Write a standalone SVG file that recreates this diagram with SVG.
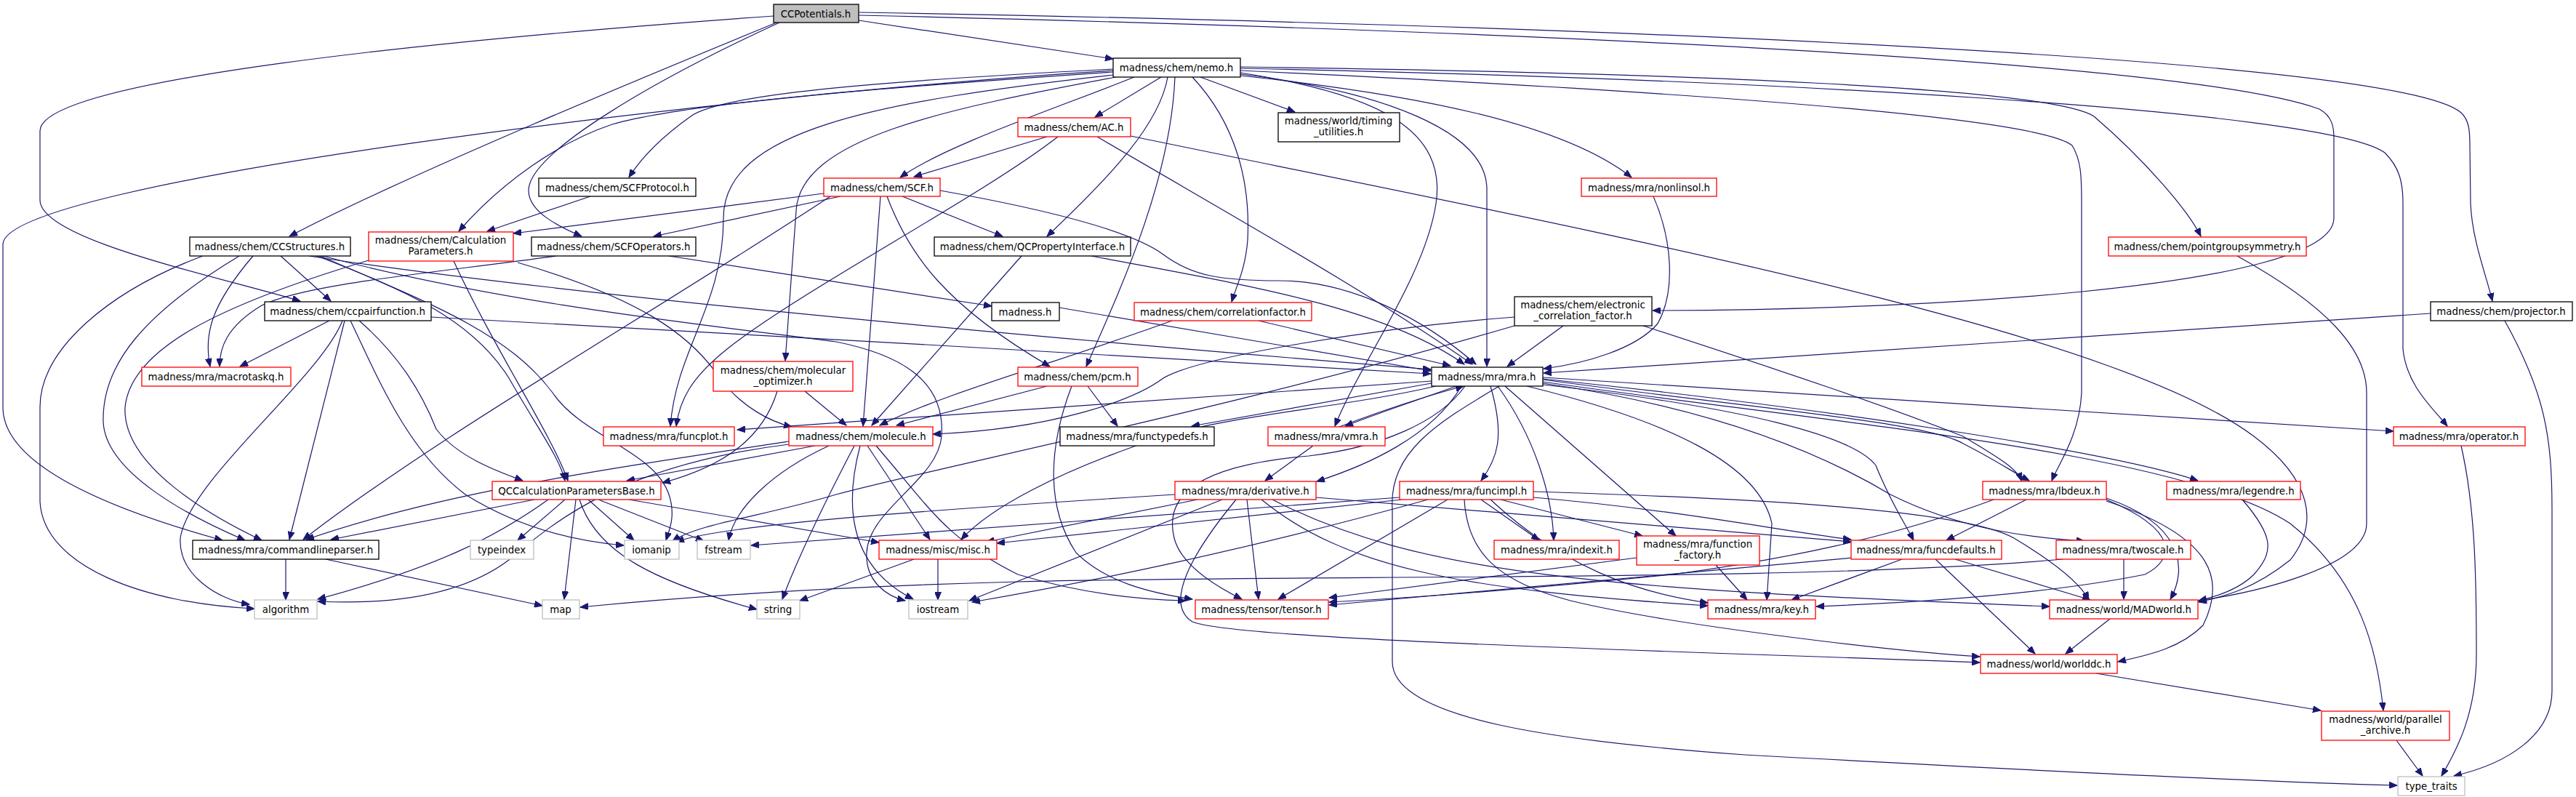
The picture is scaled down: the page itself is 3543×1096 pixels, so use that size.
<svg xmlns="http://www.w3.org/2000/svg" width="3543" height="1096" viewBox="0 0 3543 1096">
<defs>
<marker id="a" markerWidth="12" markerHeight="9" refX="11" refY="4.5" orient="auto" markerUnits="userSpaceOnUse"><path d="M0,0 L11,4.5 L0,9 z" fill="#191970" stroke="#191970" stroke-width="1"/></marker>
</defs>
<style>
.e path{fill:none;stroke:#191970;stroke-width:1.2;marker-end:url(#a)}
rect{stroke-width:1.3}
.k rect{fill:#fff;stroke:#000}
.r rect{fill:#fff;stroke:#ff0000}
.g rect{fill:#fff;stroke:#bfbfbf}
.s rect{fill:#bfbfbf;stroke:#000}
text{font-family:"DejaVu Sans","Liberation Sans",sans-serif;font-size:13.33px;fill:#000;text-anchor:middle}
</style>
<rect x="0" y="0" width="3543" height="1096" fill="#fff"/>
<g class="e" id="edges">
<path d="M1181,28 L1531,81"/>
<path d="M1068,31 C900,100 560,240 398,325"/>
<path d="M1064,22 C600,55 55,110 55,180 L55,275 C55,330 300,380 413,414"/>
<path d="M1072,31 C900,110 727,210 727,262 C727,292 770,312 800,325"/>
<path d="M1181,21 C2000,40 3000,80 3190,150 C3208,160 3210,175 3210,190 L3210,300 C3210,400 2600,427 2273,427"/>
<path d="M1181,17 C2200,35 3300,80 3385,155 C3396,165 3397,180 3397,200 L3398,280 C3400,330 3420,380 3428,414"/>
<path d="M1531,97 C1000,130 4,250 4,336 L4,560 C4,640 150,700 306,743"/>
<path d="M1531,99 C1250,118 950,140 842,171 C770,195 690,250 631,318"/>
<path d="M1531,95 C1200,112 990,130 950,160 C905,192 880,220 865,244"/>
<path d="M1531,103 C1200,140 995,180 995,300 C995,420 930,480 922,586"/>
<path d="M1535,106 C1300,150 1100,190 1095,290 L1080,496"/>
<path d="M1560,106 C1450,150 1300,200 1238,244"/>
<path d="M1597,106 L1506,161"/>
<path d="M1606,106 C1595,170 1530,240 1440,325"/>
<path d="M1616,106 C1610,250 1540,400 1494,504"/>
<path d="M1640,106 C1700,170 1720,250 1716,330 C1713,370 1700,395 1694,415"/>
<path d="M1651,106 L1781,154"/>
<path d="M1706,92 C2300,100 2820,120 2880,160 C2950,220 3010,290 3027,325"/>
<path d="M1706,94 C2400,108 3200,150 3280,210 C3300,230 3305,250 3305,280 L3305,480 C3310,530 3345,560 3366,586"/>
<path d="M1706,97 C2300,125 2800,160 2850,200 C2862,220 2863,240 2863,280 L2863,540 C2860,600 2830,640 2822,661"/>
<path d="M1706,100 C1900,130 1990,180 1975,280 C1960,380 1870,500 1836,586"/>
<path d="M1706,102 C1900,125 2045,180 2045,260 L2045,504"/>
<path d="M1706,104 C1950,130 2150,170 2244,244"/>
<path d="M279,352 C150,400 55,480 55,560 L55,690 C60,780 200,830 350,837"/>
<path d="M329,352 C200,430 140,500 142,580 C145,650 260,710 337,743"/>
<path d="M348,352 C290,420 280,460 289,504"/>
<path d="M386,352 L455,414"/>
<path d="M425,352 C800,410 1500,470 1968,508"/>
<path d="M436,352 C560,400 650,440 700,520 C740,590 770,630 777,661"/>
<path d="M440,352 C600,420 700,460 760,540 C800,600 900,620 920,680 C930,710 920,730 916,743"/>
<path d="M444,352 C700,420 1000,450 1150,470 C1250,490 1300,530 1295,600 C1290,660 1195,700 1192,760 C1190,800 1220,820 1245,826"/>
<path d="M453,441 L330,504"/>
<path d="M471,441 C440,520 260,660 248,740 C245,790 300,825 343,831"/>
<path d="M474,441 L398,742"/>
<path d="M482,441 C520,520 560,620 640,680 C720,730 800,745 858,750"/>
<path d="M494,441 C550,490 580,540 600,590 C630,630 690,650 719,661"/>
<path d="M593,436 C1000,460 1600,490 1968,514"/>
<path d="M624,359 C680,480 760,600 781,661"/>
<path d="M712,361 C880,410 950,460 990,520 C1020,560 1060,580 1089,587"/>
<path d="M507,358 C300,420 180,480 172,560 C168,640 290,710 360,743"/>
<path d="M765,352 C600,375 420,390 360,420 C310,450 302,480 302,504"/>
<path d="M920,352 L1364,421"/>
<path d="M812,270 L670,318"/>
<path d="M1440,188 L1257,243"/>
<path d="M1455,188 C1350,270 1100,400 1000,480 C950,520 935,550 930,586"/>
<path d="M1509,188 C1700,300 1880,400 2025,501"/>
<path d="M1555,187 C2200,320 2900,450 3100,600 C3180,660 3190,720 3150,770 C3100,810 3060,820 3024,828"/>
<path d="M1133,266 L706,321"/>
<path d="M1156,270 L899,325"/>
<path d="M1241,270 L1379,325"/>
<path d="M1293,262 C1450,290 1560,320 1600,350 C1640,380 1680,386 1760,386 C1860,386 1960,440 2030,501"/>
<path d="M1220,270 C1250,350 1300,420 1444,504"/>
<path d="M1211,270 L1187,586"/>
<path d="M1142,270 C900,430 600,600 417,742"/>
<path d="M1405,352 L1199,585"/>
<path d="M1501,352 C1700,390 1900,420 2014,501"/>
<path d="M1457,423 L1968,510"/>
<path d="M1612,441 C1450,500 1300,540 1210,585"/>
<path d="M1731,441 L1995,503"/>
<path d="M2150,448 L2073,504"/>
<path d="M2083,436 C1900,450 1650,490 1600,520 C1560,550 1450,590 1283,597"/>
<path d="M2083,448 C1700,560 1300,640 1150,680 C1050,710 960,720 925,744"/>
<path d="M2260,448 C2450,510 2600,560 2700,600 C2750,630 2775,645 2780,661"/>
<path d="M3343,431 L2123,513"/>
<path d="M3445,441 C3500,540 3510,600 3510,700 L3510,950 C3510,1010 3450,1050 3375,1067"/>
<path d="M2274,270 C2300,330 2305,400 2280,445 C2250,480 2180,500 2123,507"/>
<path d="M3077,352 C3200,420 3255,480 3255,540 L3255,720 C3255,780 3100,815 3024,826"/>
<path d="M1107,538 L1164,585"/>
<path d="M1069,538 C1050,600 1000,640 911,664"/>
<path d="M1440,531 L1233,585"/>
<path d="M1496,531 L1537,586"/>
<path d="M1474,531 C1440,620 1440,700 1480,760 C1520,800 1580,815 1640,824"/>
<path d="M1085,607 C800,650 600,680 421,742"/>
<path d="M1085,611 C850,640 760,720 700,770 C620,830 500,830 437,827"/>
<path d="M1121,613 L862,661"/>
<path d="M1140,613 C1060,650 1010,700 1002,743"/>
<path d="M1175,613 C1140,680 1100,760 1076,824"/>
<path d="M1183,613 C1160,700 1170,780 1256,824"/>
<path d="M1193,613 L1279,742"/>
<path d="M1205,613 C1280,700 1300,740 1400,790 C1500,820 1580,825 1631,826"/>
<path d="M735,687 L455,742"/>
<path d="M754,687 C680,740 600,780 437,824"/>
<path d="M777,687 L712,743"/>
<path d="M792,687 L776,824"/>
<path d="M797,687 C820,760 900,800 1041,838"/>
<path d="M809,687 L872,743"/>
<path d="M823,687 L968,744"/>
<path d="M865,687 L1209,746"/>
<path d="M393,769 L393,825"/>
<path d="M448,769 L746,833"/>
<path d="M1290,769 L1290,825"/>
<path d="M1257,769 L1100,826"/>
<path d="M1647,687 L1357,745"/>
<path d="M1681,687 L1333,826"/>
<path d="M1715,687 L1731,824"/>
<path d="M1700,687 C1640,760 1600,830 1640,855 C1700,880 2300,895 2723,911"/>
<path d="M1735,687 C1850,780 2000,810 2349,833"/>
<path d="M1750,687 C1950,790 2200,810 2819,834"/>
<path d="M1810,684 L2546,745"/>
<path d="M1616,680 C1300,700 1000,720 930,745"/>
<path d="M1925,684 L1033,750"/>
<path d="M1928,687 L1371,747"/>
<path d="M1964,687 C1700,760 1500,800 1337,828"/>
<path d="M1991,687 L1758,824"/>
<path d="M2037,687 L2117,743"/>
<path d="M2064,687 L2259,737"/>
<path d="M2109,684 C2300,700 2450,730 2546,742"/>
<path d="M2014,687 C2018,760 2060,800 2160,826 C2300,860 2600,895 2723,903"/>
<path d="M2050,687 C2150,780 2250,815 2349,829"/>
<path d="M2109,676 C2400,685 2700,700 2770,740 C2820,770 2860,800 2873,825"/>
<path d="M1806,613 L1740,661"/>
<path d="M1842,587 C1900,565 1960,545 2013,531"/>
<path d="M2003,531 C1950,550 1890,570 1850,586"/>
<path d="M1969,524 L1014,591"/>
<path d="M1969,527 L1639,586"/>
<path d="M2010,531 C1970,600 1880,640 1811,662"/>
<path d="M2050,531 C2070,600 2060,630 2037,661"/>
<path d="M2060,531 C2110,600 2135,680 2137,743"/>
<path d="M2070,531 L2305,737"/>
<path d="M2015,531 C1980,580 1900,615 1800,627 C1650,640 1600,680 1615,740 C1625,780 1680,810 1708,824"/>
<path d="M1975,531 C1850,560 1700,570 1600,600 C1450,650 1360,700 1322,742"/>
<path d="M2100,531 C2300,580 2420,640 2437,720 L2430,825"/>
<path d="M2122,525 C2500,580 3000,620 3150,720 C3250,800 3270,900 3278,977"/>
<path d="M2122,519 L3292,593"/>
<path d="M2122,522 C2400,560 2650,580 2700,610 C2740,630 2770,650 2791,661"/>
<path d="M2122,521 C2500,560 2900,620 3023,661"/>
<path d="M2122,527 C2350,560 2500,620 2600,680 C2700,730 2800,740 2867,744"/>
<path d="M2122,529 C2400,560 2550,600 2580,640 C2600,690 2620,720 2632,743"/>
<path d="M2062,531 C1980,580 1910,620 1915,700 L1915,910 C1915,990 2150,1020 2400,1038 C2800,1060 3100,1075 3297,1080"/>
<path d="M2787,687 L2677,743"/>
<path d="M2742,687 C2600,740 2450,770 2300,790 C2100,810 1950,822 1828,828"/>
<path d="M2897,685 C3000,720 3010,780 2985,824"/>
<path d="M2897,689 C3050,740 3060,800 3030,860 C3000,890 2960,900 2913,910"/>
<path d="M2897,687 C3000,730 2990,770 2950,790 C2800,820 2600,830 2498,834"/>
<path d="M2616,769 L2464,825"/>
<path d="M2689,769 L2875,825"/>
<path d="M2662,769 L2799,899"/>
<path d="M2548,767 C2300,790 2000,815 1828,832"/>
<path d="M2921,769 L2921,824"/>
<path d="M2837,769 C2500,800 1800,790 1400,800 C1100,808 900,825 798,835"/>
<path d="M2251,767 L1828,822"/>
<path d="M2360,777 L2403,825"/>
<path d="M2902,851 L2841,899"/>
<path d="M2883,926 L3192,977"/>
<path d="M3296,1018 L3332,1067"/>
<path d="M3385,613 C3405,700 3406,800 3406,900 C3406,980 3380,1030 3358,1067"/>
<path d="M3084,687 C3130,740 3126,760 3100,790 C3080,810 3050,820 3024,826"/>
</g>
<g id="n1" class="s"><rect x="1064" y="6" width="117" height="25"/><text x="1122" y="24">CCPotentials.h</text></g>
<g id="n2" class="k"><rect x="1531" y="80" width="175" height="26"/><text x="1618" y="98">madness/chem/nemo.h</text></g>
<g id="n3" class="k"><rect x="261" y="326" width="221" height="26"/><text x="371" y="344">madness/chem/CCStructures.h</text></g>
<g id="n4" class="k"><rect x="364" y="415" width="229" height="26"/><text x="478" y="433">madness/chem/ccpairfunction.h</text></g>
<g id="n5" class="k"><rect x="2083" y="408" width="189" height="40"/><text x="2177" y="424">madness/chem/electronic</text><text x="2177" y="439">_correlation_factor.h</text></g>
<g id="n6" class="k"><rect x="3343" y="415" width="195" height="26"/><text x="3440" y="433">madness/chem/projector.h</text></g>
<g id="n7" class="k"><rect x="731" y="326" width="226" height="26"/><text x="844" y="344">madness/chem/SCFOperators.h</text></g>
<g id="n8" class="r"><rect x="507" y="319" width="199" height="40"/><text x="606" y="335">madness/chem/Calculation</text><text x="606" y="350">Parameters.h</text></g>
<g id="n9" class="k"><rect x="741" y="245" width="216" height="25"/><text x="849" y="263">madness/chem/SCFProtocol.h</text></g>
<g id="n10" class="r"><rect x="1400" y="162" width="155" height="26"/><text x="1477" y="180">madness/chem/AC.h</text></g>
<g id="n11" class="r"><rect x="1133" y="245" width="160" height="25"/><text x="1213" y="263">madness/chem/SCF.h</text></g>
<g id="n12" class="k"><rect x="1758" y="155" width="167" height="40"/><text x="1841" y="171">madness/world/timing</text><text x="1841" y="186">_utilities.h</text></g>
<g id="n13" class="r"><rect x="2175" y="245" width="186" height="25"/><text x="2268" y="263">madness/mra/nonlinsol.h</text></g>
<g id="n14" class="r"><rect x="2900" y="326" width="272" height="26"/><text x="3036" y="344">madness/chem/pointgroupsymmetry.h</text></g>
<g id="n15" class="k"><rect x="1285" y="326" width="270" height="26"/><text x="1420" y="344">madness/chem/QCPropertyInterface.h</text></g>
<g id="n16" class="k"><rect x="1364" y="416" width="93" height="25"/><text x="1410" y="434">madness.h</text></g>
<g id="n17" class="r"><rect x="1560" y="416" width="244" height="25"/><text x="1682" y="434">madness/chem/correlationfactor.h</text></g>
<g id="n18" class="r"><rect x="981" y="497" width="192" height="41"/><text x="1077" y="514">madness/chem/molecular</text><text x="1077" y="529">_optimizer.h</text></g>
<g id="n19" class="r"><rect x="1400" y="505" width="165" height="26"/><text x="1482" y="523">madness/chem/pcm.h</text></g>
<g id="n20" class="k"><rect x="1969" y="505" width="153" height="26"/><text x="2045" y="523">madness/mra/mra.h</text></g>
<g id="n21" class="r"><rect x="195" y="505" width="205" height="26"/><text x="297" y="523">madness/mra/macrotaskq.h</text></g>
<g id="n22" class="r"><rect x="830" y="587" width="180" height="26"/><text x="920" y="605">madness/mra/funcplot.h</text></g>
<g id="n23" class="r"><rect x="1085" y="587" width="198" height="26"/><text x="1184" y="605">madness/chem/molecule.h</text></g>
<g id="n24" class="k"><rect x="1458" y="587" width="212" height="26"/><text x="1564" y="605">madness/mra/functypedefs.h</text></g>
<g id="n25" class="r"><rect x="1744" y="587" width="161" height="26"/><text x="1824" y="605">madness/mra/vmra.h</text></g>
<g id="n26" class="r"><rect x="3292" y="587" width="181" height="26"/><text x="3382" y="605">madness/mra/operator.h</text></g>
<g id="n27" class="r"><rect x="677" y="662" width="232" height="25"/><text x="793" y="680">QCCalculationParametersBase.h</text></g>
<g id="n28" class="r"><rect x="1616" y="662" width="194" height="25"/><text x="1713" y="680">madness/mra/derivative.h</text></g>
<g id="n29" class="r"><rect x="1925" y="662" width="184" height="25"/><text x="2017" y="680">madness/mra/funcimpl.h</text></g>
<g id="n30" class="r"><rect x="2727" y="662" width="170" height="25"/><text x="2812" y="680">madness/mra/lbdeux.h</text></g>
<g id="n31" class="r"><rect x="2980" y="662" width="184" height="25"/><text x="3072" y="680">madness/mra/legendre.h</text></g>
<g id="n32" class="k"><rect x="265" y="743" width="256" height="26"/><text x="393" y="761">madness/mra/commandlineparser.h</text></g>
<g id="n33" class="g"><rect x="647" y="743" width="87" height="26"/><text x="690" y="761">typeindex</text></g>
<g id="n34" class="g"><rect x="859" y="743" width="75" height="26"/><text x="896" y="761">iomanip</text></g>
<g id="n35" class="g"><rect x="959" y="743" width="73" height="26"/><text x="995" y="761">fstream</text></g>
<g id="n36" class="r"><rect x="1209" y="743" width="162" height="26"/><text x="1290" y="761">madness/misc/misc.h</text></g>
<g id="n37" class="r"><rect x="2055" y="743" width="172" height="26"/><text x="2141" y="761">madness/mra/indexit.h</text></g>
<g id="n38" class="r"><rect x="2251" y="737" width="169" height="40"/><text x="2335" y="753">madness/mra/function</text><text x="2335" y="768">_factory.h</text></g>
<g id="n39" class="r"><rect x="2546" y="743" width="207" height="26"/><text x="2649" y="761">madness/mra/funcdefaults.h</text></g>
<g id="n40" class="r"><rect x="2828" y="743" width="185" height="26"/><text x="2920" y="761">madness/mra/twoscale.h</text></g>
<g id="n41" class="g"><rect x="350" y="825" width="86" height="26"/><text x="393" y="843">algorithm</text></g>
<g id="n42" class="g"><rect x="746" y="825" width="51" height="26"/><text x="771" y="843">map</text></g>
<g id="n43" class="g"><rect x="1041" y="825" width="59" height="26"/><text x="1070" y="843">string</text></g>
<g id="n44" class="g"><rect x="1250" y="825" width="81" height="26"/><text x="1290" y="843">iostream</text></g>
<g id="n45" class="r"><rect x="1644" y="825" width="183" height="26"/><text x="1735" y="843">madness/tensor/tensor.h</text></g>
<g id="n46" class="r"><rect x="2349" y="825" width="148" height="26"/><text x="2423" y="843">madness/mra/key.h</text></g>
<g id="n47" class="r"><rect x="2819" y="825" width="204" height="26"/><text x="2921" y="843">madness/world/MADworld.h</text></g>
<g id="n48" class="r"><rect x="2724" y="900" width="188" height="26"/><text x="2818" y="918">madness/world/worlddc.h</text></g>
<g id="n49" class="r"><rect x="3193" y="978" width="176" height="40"/><text x="3281" y="994">madness/world/parallel</text><text x="3281" y="1009">_archive.h</text></g>
<g id="n50" class="g"><rect x="3298" y="1068" width="92" height="26"/><text x="3344" y="1086">type_traits</text></g>
</svg>
